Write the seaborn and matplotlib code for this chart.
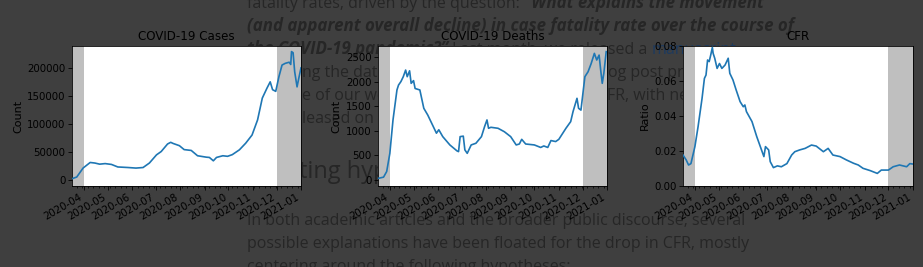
import numpy as np
import pandas as pd
import matplotlib
matplotlib.use("Agg")
import matplotlib.pyplot as plt
import matplotlib.dates as mdates
import seaborn as sns

# ---------------- data (days since 2020-03-17) ----------------
start = "2020-03-17"

cases_days = [0, 6, 14, 23, 29, 35, 42, 50, 58, 71, 81, 90, 98, 107, 113, 121, 125, 128,
              136, 142, 151, 159, 170, 174, 179, 183, 191, 197, 203, 212, 220, 228, 235,
              241, 247, 251, 254, 258, 262, 266, 270, 275, 277, 278, 280, 282, 285, 287, 290]
cases_vals = [2000, 5000, 21000, 31000, 30000, 28000, 29000, 27500, 23000, 22000, 21000,
              22000, 30000, 44600, 50600, 64000, 67000, 65000, 61000, 54000, 52500, 43000,
              40500, 40000, 34000, 40000, 43000, 42000, 45000, 53600, 65500, 80000, 107000,
              146000, 164000, 175000, 161000, 158000, 184000, 205000, 208000, 210000, 206000,
              229000, 227000, 193000, 166000, 180000, 200000]

deaths_days = [0, 7, 11, 15, 19, 24, 26, 29, 32, 35, 37, 40, 42, 45, 47, 53, 58, 63, 70, 74,
               77, 82, 91, 100, 102, 104, 108, 110, 113, 118, 124, 131, 135, 138, 140, 143,
               152, 160, 168, 175, 179, 182, 187, 198, 206, 210, 215, 219, 225, 229, 238,
               244, 247, 252, 254, 257, 262, 266, 270, 274, 277, 280, 282, 284, 286, 289]
deaths_vals = [30, 55, 170, 540, 1220, 1830, 1930, 2000, 2100, 2235, 2100, 2220, 1965, 2020,
               1860, 1830, 1457, 1320, 1085, 950, 1020, 880, 711, 590, 575, 880, 890, 610,
               540, 711, 745, 880, 1085, 1220, 1050, 1070, 1050, 980, 880, 711, 730, 825, 730,
               711, 660, 690, 660, 800, 780, 825, 1050, 1185, 1390, 1660, 1457, 1420, 2100,
               2200, 2370, 2575, 2440, 2540, 2235, 1965, 2170, 2610]

cfr_days = [0, 4, 7, 10, 15, 19, 24, 27, 29, 31, 33, 35, 37, 38, 40, 43, 46, 49, 53, 57, 59,
            63, 67, 72, 76, 78, 80, 87, 93, 99, 102, 104, 108, 110, 114, 119, 124, 131, 137,
            141, 147, 154, 162, 168, 177, 183, 189, 198, 206, 215, 221, 227, 236, 245, 250,
            259, 265, 273, 282, 286, 289]
cfr_vals = [0.0177, 0.0149, 0.012, 0.0128, 0.0225, 0.0339, 0.050, 0.0615, 0.0634, 0.072,
            0.0711, 0.0749, 0.0792, 0.0758, 0.073, 0.0672, 0.070, 0.0672, 0.0691, 0.073,
            0.0644, 0.0606, 0.0549, 0.0482, 0.0453, 0.0463, 0.0425, 0.0368, 0.0282, 0.0206,
            0.0168, 0.0225, 0.0206, 0.0139, 0.0105, 0.0115, 0.011, 0.0128, 0.0177, 0.0196,
            0.0206, 0.0215, 0.0234, 0.0228, 0.0196, 0.0215, 0.0177, 0.0168, 0.0149, 0.013,
            0.012, 0.0101, 0.0088, 0.0072, 0.0091, 0.0091, 0.011, 0.012, 0.011, 0.0128, 0.0126]

titles = ["COVID-19 Cases", "COVID-19 Deaths", "CFR"]
ylabels = ["Count", "Count", "Ratio"]
window = ("2020-04-01", "2020-12-01")

# ---------------- figure ----------------
W, H = 923, 267
BG = "#3f3f3f"
TC = "#262626"
fig = plt.figure(figsize=(W / 100, H / 100), dpi=100, facecolor=BG)

# background web-page text (behind the figure, which is transparent)
FS = 11.5
FSB = 12.2
renderer = fig.canvas.get_renderer()

def run(x, y, pieces, size=FS):
    for s, kw in pieces:
        opts = dict(fontfamily="Open Sans", fontsize=size, color=TC)
        opts.update(kw)
        t = fig.text(x / W, 1 - y / H, s, ha="left", va="baseline", zorder=-5, **opts)
        x += t.get_window_extent(renderer).width

BI = dict(fontweight="bold", fontstyle="italic", fontsize=FSB)
run(247, 8, [("fatality rates, driven by the question: ", {}),
             ("\u201cWhat explains the movement", BI)])
run(247, 31, [("(and apparent overall decline) in case fatality rate over the course of", BI)])
run(247, 54, [("the COVID-19 pandemic?\u201d", BI), (" Last month, we released a ", {}),
              ("manuscript", dict(color="#1d3a5e"))])
run(302, 77, [("ng the data and code", {})])
run(608, 77, [("og post provides", {})])
run(302, 100, [("e of our work and", {})])
run(607, 100, [("FR, with new", {})])
run(302, 123, [("leased on the", {})])
run(299, 178, [("ting hypotheses", {})], size=17)
run(247, 225, [("In both academic articles and the broader public discourse, several", {})])
run(247, 248, [("possible explanations have been floated for the drop in CFR, mostly", {})])
run(247, 271, [("centering around the following hypotheses:", {})])

# ---------------- charts ----------------
series = [(cases_days, cases_vals), (deaths_days, deaths_vals), (cfr_days, cfr_vals)]
lefts = [72, 378, 683]
widths = [229, 229, 230]
ylims = [(-11000, 239000), (-125, 2725), (0, 0.08)]
x0 = pd.Timestamp(start)
xlim = (x0, x0 + pd.Timedelta(days=290))

for i, (days, vals) in enumerate(series):
    ax = fig.add_axes([lefts[i] / W, (H - 186) / H, widths[i] / W, 140 / H])
    ax.set_facecolor("white")
    dates = x0 + pd.to_timedelta(days, unit="D")
    df = pd.DataFrame({"date": dates, "value": vals})
    sns.lineplot(data=df, x="date", y="value", ax=ax, color="#1f77b4", lw=1.2, zorder=3)
    ax.axvspan(xlim[0], pd.Timestamp(window[0]), color="gray", alpha=0.5, lw=0, zorder=1)
    ax.axvspan(pd.Timestamp(window[1]), xlim[1], color="gray", alpha=0.5, lw=0, zorder=1)
    ax.set_xlim(*xlim)
    ax.set_ylim(*ylims[i])
    ax.set_title(titles[i], fontsize=8.6, pad=4.5)
    ax.set_ylabel(ylabels[i], fontsize=8, labelpad=3)
    ax.set_xlabel("")
    ax.xaxis.set_major_locator(mdates.MonthLocator())
    ax.xaxis.set_major_formatter(mdates.DateFormatter("%Y-%m"))
    ax.xaxis.set_minor_locator(mdates.WeekdayLocator(byweekday=mdates.MO))
    ax.tick_params(axis="both", which="major", labelsize=7.4, length=2.6, width=0.6, pad=2)
    ax.tick_params(axis="x", which="minor", length=1.5, width=0.5)
    for lab in ax.get_xticklabels():
        lab.set_rotation(30)
        lab.set_ha("right")
    if i == 2:
        ax.yaxis.set_major_formatter(matplotlib.ticker.FormatStrFormatter("%.2f"))
    for sp in ax.spines.values():
        sp.set_linewidth(0.6)

fig.savefig("out.png", dpi=100, facecolor=BG)
